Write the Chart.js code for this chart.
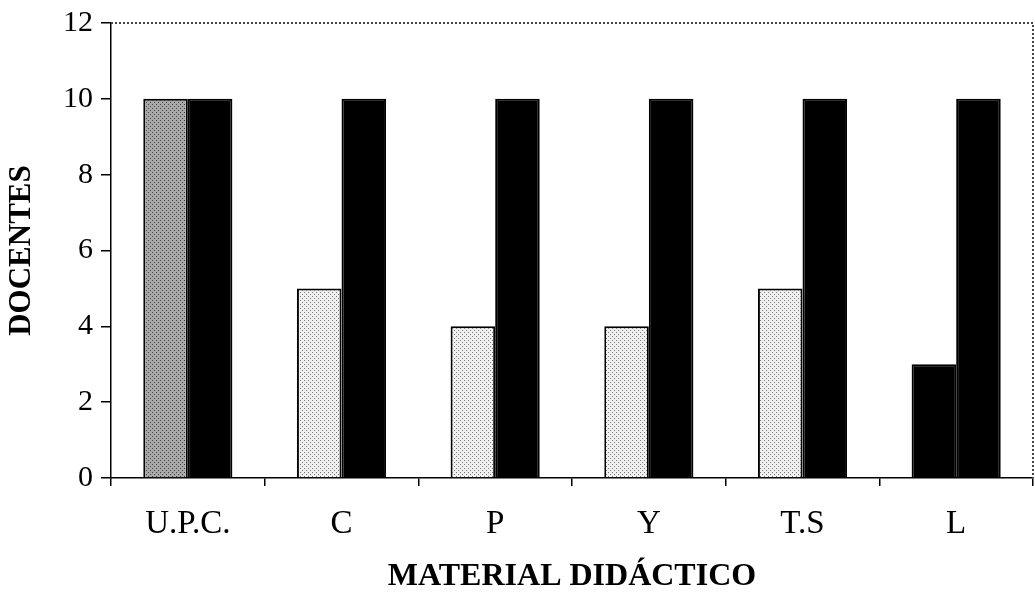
<!DOCTYPE html>
<html>
<head>
<meta charset="utf-8">
<script src="https://cdn.jsdelivr.net/npm/chart.js@4"></script>
<style>
  html, body { margin: 0; padding: 0; background: #fff; }
  #chart { display: block; }
</style>
</head>
<body>
<canvas id="chart" width="1035" height="593"></canvas>
<script>
const categories = ['U.P.C.', 'C', 'P', 'Y', 'T.S', 'L'];
const serieA = [10, 5, 4, 4, 5, 3];
const serieB = [10, 10, 10, 10, 10, 10];
const yTicks = [0, 2, 4, 6, 8, 10, 12];

// stipple fills, like the scanned halftone
function stipple(base, dot, step) {
  const c = document.createElement('canvas');
  c.width = step; c.height = step;
  const g = c.getContext('2d');
  g.fillStyle = base;
  g.fillRect(0, 0, step, step);
  g.fillStyle = dot;
  g.fillRect(0, 0, 1, 1);
  g.fillRect(2, 2, 1, 1);
  return g.createPattern(c, 'repeat');
}
const ctx = document.getElementById('chart').getContext('2d');
const darkDots = stipple('#a8a8a8', '#444', 4);
const lightDots = stipple('#f0f0f0', '#777', 4);
const fillA = ['dark', 'light', 'light', 'light', 'light', 'black'].map(k =>
  k === 'dark' ? darkDots : k === 'light' ? lightDots : '#000');

const frame = {
  id: 'frame',
  afterDraw(chart) {
    const { ctx, chartArea: a } = chart;
    ctx.save();
    ctx.strokeStyle = '#444';
    ctx.lineWidth = 2;
    ctx.setLineDash([2, 2]);
    ctx.beginPath();
    ctx.moveTo(a.left, a.top);
    ctx.lineTo(a.right, a.top);
    ctx.lineTo(a.right, a.bottom);
    ctx.stroke();
    ctx.restore();
  }
};

new Chart(ctx, {
  type: 'bar',
  data: {
    labels: categories,
    datasets: [
      { data: serieA, backgroundColor: fillA, borderColor: '#000', borderWidth: 2 },
      { data: serieB, backgroundColor: '#000', borderColor: '#000', borderWidth: 2 }
    ]
  },
  options: {
    responsive: false,
    animation: false,
    devicePixelRatio: 1,
    layout: { padding: { top: 5, right: 2, left: 6, bottom: 0 } },
    categoryPercentage: 0.58,
    barPercentage: 1,
    plugins: { legend: { display: false }, tooltip: { enabled: false } },
    scales: {
      x: {
        afterFit: s => { s.height = 115; },
        grid: { drawOnChartArea: false, tickLength: 8, color: '#000', lineWidth: 1.5 },
        border: { color: '#000', width: 1.5 },
        ticks: { color: '#000', padding: 22, font: { family: 'Liberation Serif', size: 33, lineHeight: 1 } },
        title: {
          display: true, text: 'MATERIAL DIDÁCTICO', color: '#000',
          padding: { top: 0, bottom: 0 },
          font: { family: 'Liberation Serif', size: 32, weight: 'bold', lineHeight: 1 }
        }
      },
      y: {
        min: 0, max: 12,
        afterBuildTicks: s => { s.ticks = yTicks.map(v => ({ value: v })); },
        grid: { drawOnChartArea: false, tickLength: 10, color: '#000', lineWidth: 1.5 },
        border: { color: '#000', width: 1.5 },
        ticks: { color: '#000', padding: 8, font: { family: 'Liberation Serif', size: 30, lineHeight: 1 } },
        title: {
          display: true, text: 'DOCENTES', color: '#000',
          padding: { top: 0, bottom: 18 },
          font: { family: 'Liberation Serif', size: 31, weight: 'bold', lineHeight: 1 }
        }
      }
    }
  },
  plugins: [frame]
});
</script>
</body>
</html>
